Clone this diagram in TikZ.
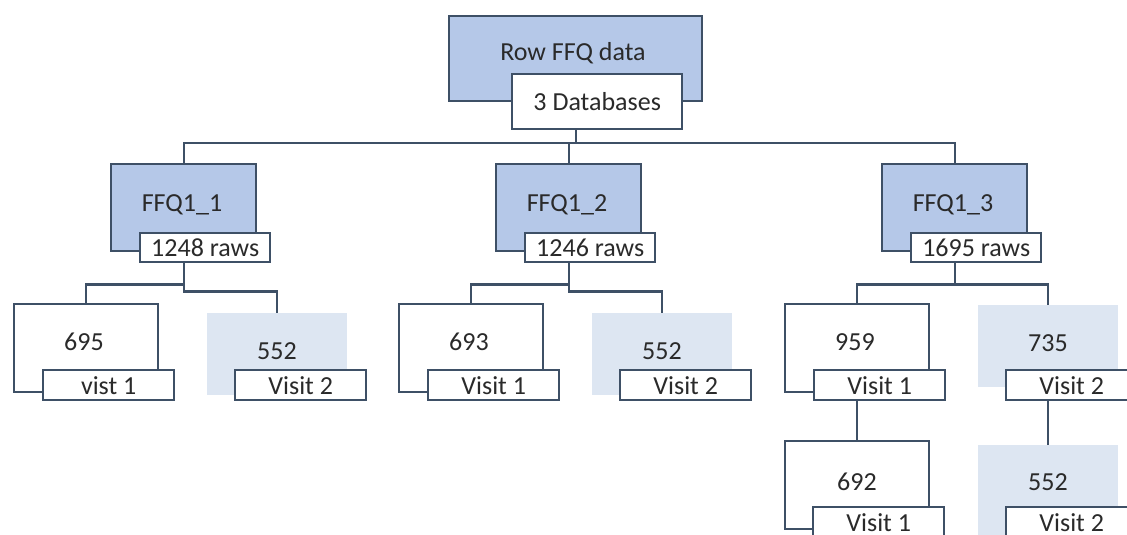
\documentclass[tikz,border=0pt]{standalone}
\usepackage{fontspec}
\setmainfont{Carlito}
\usepackage{tikz}

\definecolor{lineblue}{HTML}{3E5066}
\definecolor{midblue}{HTML}{B5C8E8}
\definecolor{paleblue}{HTML}{DDE6F2}
\definecolor{inkgray}{HTML}{2A2A2A}

\tikzset{
	box/.style={draw=lineblue, line width=2.4pt, inner sep=0pt, anchor=north west},
	mainbox/.style={box, fill=midblue},
	plainbox/.style={box, fill=white},
	softbox/.style={fill=paleblue, inner sep=0pt, anchor=north west},
	tagbox/.style={box, fill=white, minimum width=131pt, minimum height=30pt},
	link/.style={draw=lineblue, line width=2.4pt},
}

\begin{document}
\begin{tikzpicture}[x=1pt, y=-1pt, every node/.style={font=\fontsize{26}{30}\selectfont, text=inkgray}]
	\useasboundingbox[fill=white] (0,0) rectangle (1127,535);
	% top of the tree
	\node[mainbox, minimum width=253pt, minimum height=85pt] (root) at (448,15) {};
	\node (roottxt) at (573,53) {Row FFQ data};
	\node[box, fill=white, minimum width=170pt, minimum height=55pt] (rootsub) at (511,73) {3 Databases};
	\coordinate (bar) at (0,143);
	% one database per column
	\foreach \i/\x/\ffq/\rows/\wn/\wl/\ln/\ry/\lt in {1/110/{FFQ1\_1}/{1248 raws}/695/{vist 1}/552/289/313, 2/495/{FFQ1\_2}/{1246 raws}/693/{Visit 1}/552/289/313, 3/881/{FFQ1\_3}/{1695 raws}/959/{Visit 1}/735/282/305} {
		\node[mainbox, minimum width=145pt, minimum height=87pt] (f\i) at (\x,163) {};
		\node (ft\i) at (\x+72,205) {\ffq};
		\node[tagbox, minimum width=130pt, minimum height=29pt] (fs\i) at (\x+29,232) {\rows};
		\node[plainbox, minimum width=144pt, minimum height=88pt] (w\i) at (\x-97,303) {};
		\node (wt\i) at (\x-26,342) {\wn};
		\node[tagbox] (ws\i) at (\x-68,369) {\wl};
		\node[softbox, minimum width=140pt, minimum height=82pt] (l\i) at (\x+97,\lt) {};
		\node (lt\i) at (\x+167,\lt+38) {\ln};
		\node[tagbox] (ls\i) at (\x+124,369) {Visit 2};
		\draw[link] (f\i.south |- fs\i.south) -- ++(0,21) -| (w\i.north);
		\draw[link] (f\i.south |- fs\i.south) -- ++(0,\ry-261) -| (l\i.north);
	}
	% second level under FFQ1_3
	\node[plainbox, minimum width=144pt, minimum height=88pt] (ww3) at (784,440) {};
	\node (wwt3) at (857,482) {692};
	\node[tagbox] (wws3) at (812,506) {Visit 1};
	\node[softbox, minimum width=140pt, minimum height=95pt] (ll3) at (978,445) {};
	\node (llt3) at (1048,482) {552};
	\node[tagbox] (lls3) at (1005,506) {Visit 2};
	\draw[link] (w3.south |- ws3.south) -- (ww3.north);
	\draw[link] (l3.south |- ls3.south) -- (ll3.north);
	% links from the top
	\draw[link] (root.south |- rootsub.south) -- (root.south |- bar);
	\draw[link] (f1.north) -- (f1.north |- bar) -- (f3.north |- bar) -- (f3.north);
	\draw[link] (f2.north) -- (f2.north |- bar);
\end{tikzpicture}
\end{document}
